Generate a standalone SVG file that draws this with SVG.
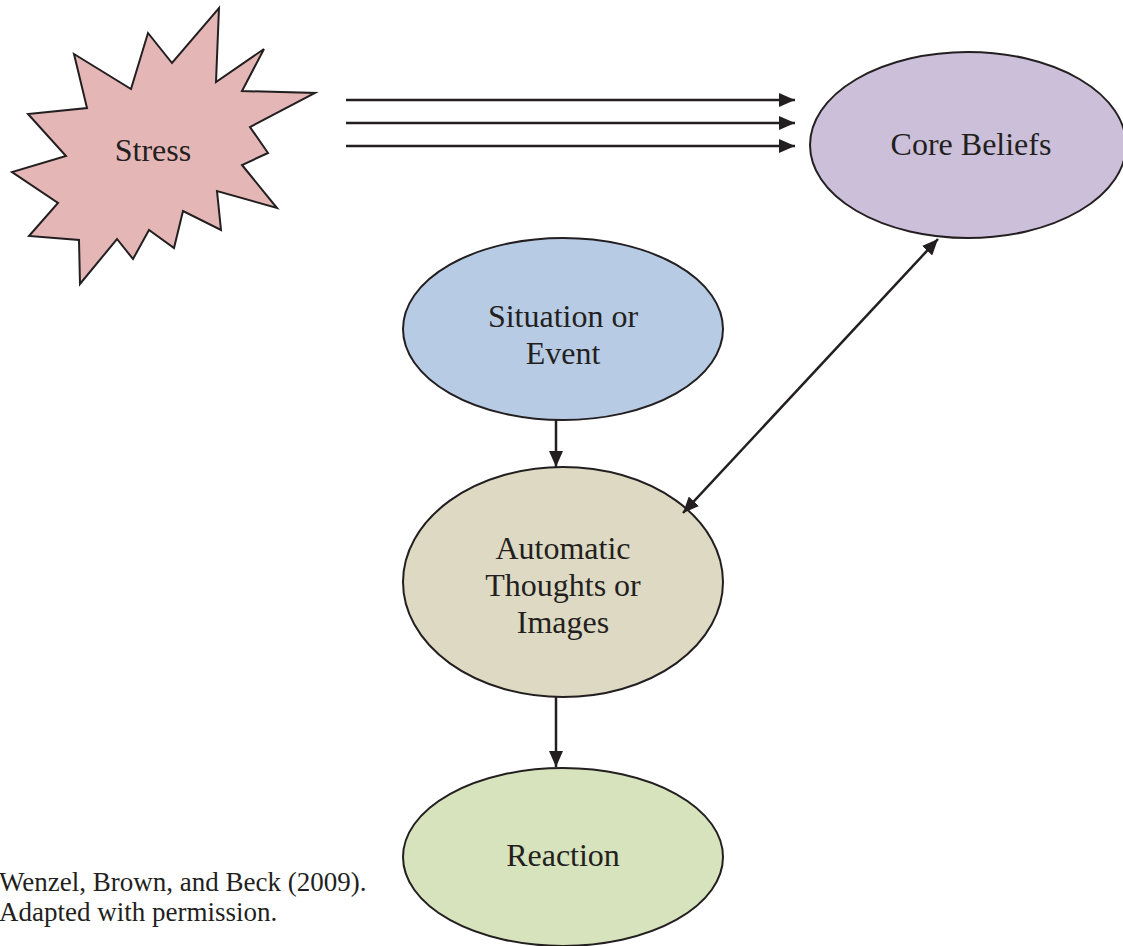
<svg xmlns="http://www.w3.org/2000/svg" width="1123" height="946" viewBox="0 0 1123 946">
<style>
.shape{stroke:#231f20;stroke-width:2;stroke-linejoin:miter}
.lbl{font-family:"Liberation Serif","Times New Roman",serif;font-size:32px;fill:#231f20;text-anchor:middle}
.note{font-family:"Liberation Serif","Times New Roman",serif;font-size:27px;fill:#231f20}
.conn{stroke:#231f20;stroke-width:2.5;fill:none}
</style>
<defs>
<marker id="ah" markerUnits="userSpaceOnUse" markerWidth="18" markerHeight="14" refX="16" refY="7" orient="auto-start-reverse">
<path d="M0,0 L16,7 L0,14 z" fill="#231f20"/>
</marker>
</defs>
<rect width="1123" height="946" fill="#ffffff"/>
<g id="stress">
<polygon class="shape" fill="#e5b6b6" points="219,8 216,82 264,49 242,91 315,93 250,127 268,153 242,165 277,208 217,191 221,230 183,211 174,248 149,230 133,259 117,239 80,284 79,240 29,236 58,203 12,172 66,156 28,114 87,108 74,54 131,89 148,33 172,63"/>
<text class="lbl" x="153" y="161">Stress</text>
</g>
<g id="core-beliefs">
<ellipse class="shape" fill="#ccbfd9" cx="968" cy="145" rx="158" ry="93"/>
<text class="lbl" x="971" y="155">Core Beliefs</text>
</g>
<g id="situation">
<ellipse class="shape" fill="#b8cbe4" cx="563" cy="329" rx="160" ry="91"/>
<text class="lbl" x="563" y="327">Situation or</text>
<text class="lbl" x="563" y="364">Event</text>
</g>
<g id="automatic">
<ellipse class="shape" fill="#ddd9c3" cx="563" cy="582" rx="160" ry="115"/>
<text class="lbl" x="563" y="559">Automatic</text>
<text class="lbl" x="563" y="596">Thoughts or</text>
<text class="lbl" x="563" y="633">Images</text>
</g>
<g id="reaction">
<ellipse class="shape" fill="#d7e3bc" cx="563" cy="857" rx="160" ry="89"/>
<text class="lbl" x="563" y="866">Reaction</text>
</g>
<g id="citation">
<text class="note" x="-1" y="891">Wenzel, Brown, and Beck (2009).</text>
<text class="note" x="-1" y="921">Adapted with permission.</text>
</g>
<g id="connectors">
<line class="conn" x1="346" y1="100" x2="795" y2="100" marker-end="url(#ah)"/>
<line class="conn" x1="346" y1="123" x2="795" y2="123" marker-end="url(#ah)"/>
<line class="conn" x1="346" y1="146" x2="795" y2="146" marker-end="url(#ah)"/>
<line class="conn" x1="556" y1="420" x2="556" y2="467" marker-end="url(#ah)"/>
<line class="conn" x1="556" y1="697" x2="556" y2="767" marker-end="url(#ah)"/>
<line class="conn" x1="938" y1="239" x2="683" y2="513" marker-start="url(#ah)" marker-end="url(#ah)"/>
</g>
</svg>
